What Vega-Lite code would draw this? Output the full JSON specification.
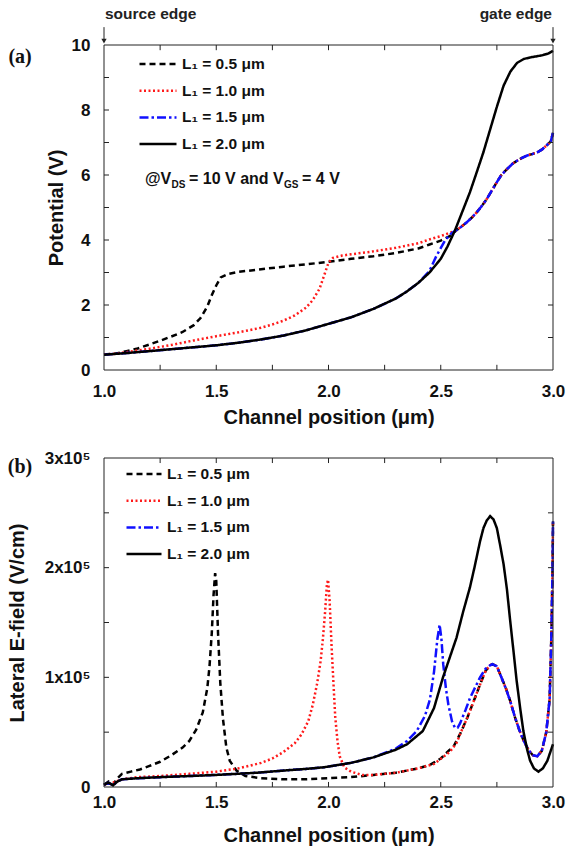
{
  "$schema": "https://vega.github.io/schema/vega-lite/v6.json",
  "padding": {"left": 7, "top": 7, "right": 4, "bottom": 2},
  "background": "white",
  "spacing": 22,
  "config": {
    "font": "Liberation Sans",
    "view": {"stroke": null},
    "axis": {
      "domain": false, "grid": false, "ticks": false,
      "labelFont": "Liberation Sans", "labelFontSize": 17, "labelFontWeight": "bold", "labelColor": "#111111",
      "titleFont": "Liberation Sans", "titleFontSize": 20, "titleFontWeight": "bold", "titleColor": "#111111",
      "labelOverlap": false, "labelFlush": false, "labelBound": false
    },
    "axisX": {"labelPadding": 13},
    "axisY": {"labelPadding": 14},
    "legend": {
      "labelFont": "Liberation Sans", "labelFontSize": 15.5, "labelFontWeight": "bold", "labelColor": "#111111",
      "symbolType": "stroke", "labelOffset": 4, "rowPadding": 9.7, "clipHeight": 16, "padding": 0
    }
  },
  "datasets": {
    "tx": [{"t":1.25},{"t":1.5},{"t":1.75},{"t":2.0},{"t":2.25},{"t":2.5},{"t":2.75}],
    "tp": [{"t":1},{"t":2},{"t":3},{"t":4},{"t":5},{"t":6},{"t":7},{"t":8},{"t":9}],
    "te": [{"t":50000},{"t":100000},{"t":150000},{"t":200000},{"t":250000}],
    "pot": [
      {"s":"0.5","x":1.0,"y":0.48},{"s":"0.5","x":1.05,"y":0.5},{"s":"0.5","x":1.1,"y":0.58},{"s":"0.5","x":1.15,"y":0.66},{"s":"0.5","x":1.2,"y":0.78},{"s":"0.5","x":1.25,"y":0.9},{"s":"0.5","x":1.3,"y":1.03},{"s":"0.5","x":1.35,"y":1.17},{"s":"0.5","x":1.4,"y":1.38},{"s":"0.5","x":1.43,"y":1.6},{"s":"0.5","x":1.46,"y":1.95},{"s":"0.5","x":1.48,"y":2.3},{"s":"0.5","x":1.5,"y":2.6},{"s":"0.5","x":1.52,"y":2.85},{"s":"0.5","x":1.55,"y":2.95},{"s":"0.5","x":1.6,"y":3.02},{"s":"0.5","x":1.7,"y":3.1},{"s":"0.5","x":1.8,"y":3.18},{"s":"0.5","x":1.9,"y":3.25},{"s":"0.5","x":2.0,"y":3.33},{"s":"0.5","x":2.1,"y":3.42},{"s":"0.5","x":2.2,"y":3.5},{"s":"0.5","x":2.3,"y":3.6},{"s":"0.5","x":2.4,"y":3.74},{"s":"0.5","x":2.45,"y":3.86},{"s":"0.5","x":2.5,"y":3.98},{"s":"0.5","x":2.54,"y":4.12},{"s":"0.5","x":2.57,"y":4.3},
      {"s":"0.5","x":2.59,"y":4.4},{"s":"0.5","x":2.615,"y":4.54},{"s":"0.5","x":2.64,"y":4.7},{"s":"0.5","x":2.66,"y":4.85},{"s":"0.5","x":2.68,"y":5.02},{"s":"0.5","x":2.705,"y":5.26},{"s":"0.5","x":2.73,"y":5.55},{"s":"0.5","x":2.75,"y":5.78},{"s":"0.5","x":2.77,"y":6.0},{"s":"0.5","x":2.795,"y":6.18},{"s":"0.5","x":2.82,"y":6.35},{"s":"0.5","x":2.84,"y":6.44},{"s":"0.5","x":2.86,"y":6.52},{"s":"0.5","x":2.885,"y":6.6},{"s":"0.5","x":2.91,"y":6.65},{"s":"0.5","x":2.93,"y":6.7},{"s":"0.5","x":2.95,"y":6.78},{"s":"0.5","x":2.97,"y":6.9},{"s":"0.5","x":2.99,"y":7.03},{"s":"0.5","x":3.0,"y":7.3},

      {"s":"1.0","x":1.0,"y":0.48},{"s":"1.0","x":1.05,"y":0.5},{"s":"1.0","x":1.1,"y":0.55},{"s":"1.0","x":1.2,"y":0.65},{"s":"1.0","x":1.3,"y":0.77},{"s":"1.0","x":1.4,"y":0.91},{"s":"1.0","x":1.5,"y":1.04},{"s":"1.0","x":1.6,"y":1.16},{"s":"1.0","x":1.7,"y":1.3},{"s":"1.0","x":1.75,"y":1.4},{"s":"1.0","x":1.8,"y":1.52},{"s":"1.0","x":1.85,"y":1.68},{"s":"1.0","x":1.9,"y":1.92},{"s":"1.0","x":1.93,"y":2.15},{"s":"1.0","x":1.96,"y":2.5},{"s":"1.0","x":1.98,"y":2.9},{"s":"1.0","x":2.0,"y":3.3},{"s":"1.0","x":2.02,"y":3.45},{"s":"1.0","x":2.06,"y":3.52},{"s":"1.0","x":2.1,"y":3.56},{"s":"1.0","x":2.2,"y":3.65},{"s":"1.0","x":2.3,"y":3.76},{"s":"1.0","x":2.4,"y":3.9},{"s":"1.0","x":2.45,"y":4.02},{"s":"1.0","x":2.5,"y":4.12},{"s":"1.0","x":2.54,"y":4.22},{"s":"1.0","x":2.57,"y":4.3},
      {"s":"1.0","x":2.59,"y":4.4},{"s":"1.0","x":2.615,"y":4.54},{"s":"1.0","x":2.64,"y":4.7},{"s":"1.0","x":2.66,"y":4.85},{"s":"1.0","x":2.68,"y":5.02},{"s":"1.0","x":2.705,"y":5.26},{"s":"1.0","x":2.73,"y":5.55},{"s":"1.0","x":2.75,"y":5.78},{"s":"1.0","x":2.77,"y":6.0},{"s":"1.0","x":2.795,"y":6.18},{"s":"1.0","x":2.82,"y":6.35},{"s":"1.0","x":2.84,"y":6.44},{"s":"1.0","x":2.86,"y":6.52},{"s":"1.0","x":2.885,"y":6.6},{"s":"1.0","x":2.91,"y":6.65},{"s":"1.0","x":2.93,"y":6.7},{"s":"1.0","x":2.95,"y":6.78},{"s":"1.0","x":2.97,"y":6.9},{"s":"1.0","x":2.99,"y":7.03},{"s":"1.0","x":3.0,"y":7.3},

      {"s":"1.5","x":1.0,"y":0.47},{"s":"1.5","x":1.1,"y":0.52},{"s":"1.5","x":1.2,"y":0.58},{"s":"1.5","x":1.3,"y":0.64},{"s":"1.5","x":1.4,"y":0.7},{"s":"1.5","x":1.5,"y":0.76},{"s":"1.5","x":1.6,"y":0.84},{"s":"1.5","x":1.7,"y":0.94},{"s":"1.5","x":1.8,"y":1.06},{"s":"1.5","x":1.9,"y":1.22},{"s":"1.5","x":2.0,"y":1.42},{"s":"1.5","x":2.1,"y":1.62},{"s":"1.5","x":2.2,"y":1.88},{"s":"1.5","x":2.3,"y":2.2},{"s":"1.5","x":2.35,"y":2.42},{"s":"1.5","x":2.4,"y":2.68},{"s":"1.5","x":2.45,"y":3.05},{"s":"1.5","x":2.48,"y":3.5},{"s":"1.5","x":2.52,"y":4.0},{"s":"1.5","x":2.55,"y":4.22},{"s":"1.5","x":2.575,"y":4.33},
      {"s":"1.5","x":2.59,"y":4.4},{"s":"1.5","x":2.615,"y":4.54},{"s":"1.5","x":2.64,"y":4.7},{"s":"1.5","x":2.66,"y":4.85},{"s":"1.5","x":2.68,"y":5.02},{"s":"1.5","x":2.705,"y":5.26},{"s":"1.5","x":2.73,"y":5.55},{"s":"1.5","x":2.75,"y":5.78},{"s":"1.5","x":2.77,"y":6.0},{"s":"1.5","x":2.795,"y":6.18},{"s":"1.5","x":2.82,"y":6.35},{"s":"1.5","x":2.84,"y":6.44},{"s":"1.5","x":2.86,"y":6.52},{"s":"1.5","x":2.885,"y":6.6},{"s":"1.5","x":2.91,"y":6.65},{"s":"1.5","x":2.93,"y":6.7},{"s":"1.5","x":2.95,"y":6.78},{"s":"1.5","x":2.97,"y":6.9},{"s":"1.5","x":2.99,"y":7.03},{"s":"1.5","x":3.0,"y":7.3},

      {"s":"2.0","x":1.0,"y":0.47},{"s":"2.0","x":1.1,"y":0.52},{"s":"2.0","x":1.2,"y":0.58},{"s":"2.0","x":1.3,"y":0.64},{"s":"2.0","x":1.4,"y":0.7},{"s":"2.0","x":1.5,"y":0.76},{"s":"2.0","x":1.6,"y":0.84},{"s":"2.0","x":1.7,"y":0.94},{"s":"2.0","x":1.8,"y":1.06},{"s":"2.0","x":1.9,"y":1.22},{"s":"2.0","x":2.0,"y":1.42},{"s":"2.0","x":2.1,"y":1.62},{"s":"2.0","x":2.2,"y":1.88},{"s":"2.0","x":2.3,"y":2.2},{"s":"2.0","x":2.35,"y":2.42},{"s":"2.0","x":2.4,"y":2.68},{"s":"2.0","x":2.45,"y":3.0},{"s":"2.0","x":2.5,"y":3.42},{"s":"2.0","x":2.53,"y":3.8},{"s":"2.0","x":2.563,"y":4.29},{"s":"2.0","x":2.6,"y":4.94},{"s":"2.0","x":2.63,"y":5.47},{"s":"2.0","x":2.66,"y":6.08},{"s":"2.0","x":2.69,"y":6.7},{"s":"2.0","x":2.72,"y":7.4},{"s":"2.0","x":2.75,"y":8.1},{"s":"2.0","x":2.78,"y":8.75},{"s":"2.0","x":2.81,"y":9.18},{"s":"2.0","x":2.84,"y":9.45},{"s":"2.0","x":2.87,"y":9.57},{"s":"2.0","x":2.9,"y":9.62},{"s":"2.0","x":2.95,"y":9.68},{"s":"2.0","x":2.98,"y":9.74},{"s":"2.0","x":3.0,"y":9.82}
    ],
    "ef": [
      {"s":"0.5","x":1.0,"y":2000},{"s":"0.5","x":1.02,"y":5000},{"s":"0.5","x":1.04,"y":2000},{"s":"0.5","x":1.06,"y":8000},{"s":"0.5","x":1.08,"y":12000},{"s":"0.5","x":1.12,"y":14000},{"s":"0.5","x":1.16,"y":16000},{"s":"0.5","x":1.2,"y":19000},{"s":"0.5","x":1.25,"y":23000},{"s":"0.5","x":1.3,"y":29000},{"s":"0.5","x":1.35,"y":36000},{"s":"0.5","x":1.38,"y":42000},{"s":"0.5","x":1.41,"y":52000},{"s":"0.5","x":1.44,"y":68000},{"s":"0.5","x":1.46,"y":90000},{"s":"0.5","x":1.47,"y":110000},{"s":"0.5","x":1.48,"y":140000},{"s":"0.5","x":1.488,"y":175000},{"s":"0.5","x":1.495,"y":195000},{"s":"0.5","x":1.5,"y":188000},{"s":"0.5","x":1.508,"y":140000},{"s":"0.5","x":1.518,"y":95000},{"s":"0.5","x":1.53,"y":62000},{"s":"0.5","x":1.545,"y":36000},{"s":"0.5","x":1.56,"y":24000},{"s":"0.5","x":1.59,"y":15000},{"s":"0.5","x":1.63,"y":10000},{"s":"0.5","x":1.7,"y":8000},{"s":"0.5","x":1.8,"y":7000},{"s":"0.5","x":1.9,"y":7000},{"s":"0.5","x":2.0,"y":8000},{"s":"0.5","x":2.1,"y":9000},{"s":"0.5","x":2.2,"y":11000},{"s":"0.5","x":2.3,"y":13000},{"s":"0.5","x":2.4,"y":17000},{"s":"0.5","x":2.45,"y":20000},{"s":"0.5","x":2.5,"y":26000},{"s":"0.5","x":2.53,"y":32000},{"s":"0.5","x":2.56,"y":38000},
      {"s":"0.5","x":2.59,"y":50000},{"s":"0.5","x":2.62,"y":64000},{"s":"0.5","x":2.65,"y":80000},{"s":"0.5","x":2.68,"y":96000},{"s":"0.5","x":2.7,"y":106000},{"s":"0.5","x":2.72,"y":111000},{"s":"0.5","x":2.73,"y":112000},{"s":"0.5","x":2.75,"y":110000},{"s":"0.5","x":2.77,"y":100000},{"s":"0.5","x":2.79,"y":90000},{"s":"0.5","x":2.81,"y":78000},{"s":"0.5","x":2.83,"y":64000},{"s":"0.5","x":2.85,"y":52000},{"s":"0.5","x":2.87,"y":42000},{"s":"0.5","x":2.89,"y":34000},{"s":"0.5","x":2.91,"y":29000},{"s":"0.5","x":2.93,"y":28000},{"s":"0.5","x":2.95,"y":33000},{"s":"0.5","x":2.97,"y":50000},{"s":"0.5","x":2.985,"y":80000},{"s":"0.5","x":2.993,"y":140000},{"s":"0.5","x":2.998,"y":200000},{"s":"0.5","x":3.0,"y":242000},

      {"s":"1.0","x":1.0,"y":2000},{"s":"1.0","x":1.04,"y":4000},{"s":"1.0","x":1.08,"y":7000},{"s":"1.0","x":1.15,"y":9000},{"s":"1.0","x":1.25,"y":10000},{"s":"1.0","x":1.38,"y":12000},{"s":"1.0","x":1.5,"y":14000},{"s":"1.0","x":1.6,"y":17000},{"s":"1.0","x":1.7,"y":22000},{"s":"1.0","x":1.75,"y":26000},{"s":"1.0","x":1.8,"y":32000},{"s":"1.0","x":1.85,"y":40000},{"s":"1.0","x":1.88,"y":48000},{"s":"1.0","x":1.91,"y":60000},{"s":"1.0","x":1.93,"y":75000},{"s":"1.0","x":1.95,"y":95000},{"s":"1.0","x":1.965,"y":115000},{"s":"1.0","x":1.975,"y":135000},{"s":"1.0","x":1.985,"y":160000},{"s":"1.0","x":1.993,"y":185000},{"s":"1.0","x":1.998,"y":189000},{"s":"1.0","x":2.005,"y":170000},{"s":"1.0","x":2.014,"y":127000},{"s":"1.0","x":2.022,"y":95000},{"s":"1.0","x":2.03,"y":64000},{"s":"1.0","x":2.04,"y":42000},{"s":"1.0","x":2.05,"y":28000},{"s":"1.0","x":2.07,"y":18000},{"s":"1.0","x":2.1,"y":14000},{"s":"1.0","x":2.15,"y":11000},{"s":"1.0","x":2.2,"y":11000},{"s":"1.0","x":2.3,"y":13000},{"s":"1.0","x":2.4,"y":17000},{"s":"1.0","x":2.47,"y":21000},{"s":"1.0","x":2.54,"y":32000},{"s":"1.0","x":2.57,"y":40000},
      {"s":"1.0","x":2.59,"y":50000},{"s":"1.0","x":2.62,"y":64000},{"s":"1.0","x":2.65,"y":80000},{"s":"1.0","x":2.68,"y":96000},{"s":"1.0","x":2.7,"y":106000},{"s":"1.0","x":2.72,"y":111000},{"s":"1.0","x":2.73,"y":112000},{"s":"1.0","x":2.75,"y":110000},{"s":"1.0","x":2.77,"y":100000},{"s":"1.0","x":2.79,"y":90000},{"s":"1.0","x":2.81,"y":78000},{"s":"1.0","x":2.83,"y":64000},{"s":"1.0","x":2.85,"y":52000},{"s":"1.0","x":2.87,"y":42000},{"s":"1.0","x":2.89,"y":34000},{"s":"1.0","x":2.91,"y":29000},{"s":"1.0","x":2.93,"y":28000},{"s":"1.0","x":2.95,"y":33000},{"s":"1.0","x":2.97,"y":50000},{"s":"1.0","x":2.985,"y":80000},{"s":"1.0","x":2.993,"y":140000},{"s":"1.0","x":2.998,"y":200000},{"s":"1.0","x":3.0,"y":242000},

      {"s":"1.5","x":1.0,"y":2000},{"s":"1.5","x":1.02,"y":4000},{"s":"1.5","x":1.04,"y":1500},{"s":"1.5","x":1.06,"y":5000},{"s":"1.5","x":1.08,"y":7000},{"s":"1.5","x":1.15,"y":8000},{"s":"1.5","x":1.25,"y":9000},{"s":"1.5","x":1.38,"y":10000},{"s":"1.5","x":1.5,"y":11000},{"s":"1.5","x":1.68,"y":13000},{"s":"1.5","x":1.8,"y":15000},{"s":"1.5","x":1.9,"y":16500},{"s":"1.5","x":1.98,"y":18000},{"s":"1.5","x":2.1,"y":22000},{"s":"1.5","x":2.2,"y":27000},{"s":"1.5","x":2.3,"y":35000},{"s":"1.5","x":2.35,"y":42000},{"s":"1.5","x":2.393,"y":51000},{"s":"1.5","x":2.43,"y":65000},{"s":"1.5","x":2.452,"y":80000},{"s":"1.5","x":2.47,"y":105000},{"s":"1.5","x":2.485,"y":135000},{"s":"1.5","x":2.495,"y":148000},{"s":"1.5","x":2.503,"y":135000},{"s":"1.5","x":2.511,"y":112000},{"s":"1.5","x":2.523,"y":90000},{"s":"1.5","x":2.534,"y":75000},{"s":"1.5","x":2.55,"y":60000},{"s":"1.5","x":2.563,"y":54000},{"s":"1.5","x":2.575,"y":54000},{"s":"1.5","x":2.586,"y":58000},{"s":"1.5","x":2.61,"y":70000},{"s":"1.5","x":2.63,"y":81000},{"s":"1.5","x":2.675,"y":100000},{"s":"1.5","x":2.7,"y":108000},{"s":"1.5","x":2.72,"y":111000},
      {"s":"1.5","x":2.73,"y":112000},{"s":"1.5","x":2.75,"y":110000},{"s":"1.5","x":2.77,"y":100000},{"s":"1.5","x":2.79,"y":90000},{"s":"1.5","x":2.81,"y":78000},{"s":"1.5","x":2.83,"y":64000},{"s":"1.5","x":2.85,"y":52000},{"s":"1.5","x":2.87,"y":42000},{"s":"1.5","x":2.89,"y":34000},{"s":"1.5","x":2.91,"y":29000},{"s":"1.5","x":2.93,"y":28000},{"s":"1.5","x":2.95,"y":33000},{"s":"1.5","x":2.97,"y":50000},{"s":"1.5","x":2.985,"y":80000},{"s":"1.5","x":2.993,"y":140000},{"s":"1.5","x":2.998,"y":200000},{"s":"1.5","x":3.0,"y":242000},

      {"s":"2.0","x":1.0,"y":2000},{"s":"2.0","x":1.02,"y":4000},{"s":"2.0","x":1.04,"y":1500},{"s":"2.0","x":1.06,"y":5000},{"s":"2.0","x":1.08,"y":7000},{"s":"2.0","x":1.15,"y":8000},{"s":"2.0","x":1.25,"y":9000},{"s":"2.0","x":1.38,"y":10000},{"s":"2.0","x":1.5,"y":11000},{"s":"2.0","x":1.68,"y":13000},{"s":"2.0","x":1.8,"y":15000},{"s":"2.0","x":1.9,"y":16500},{"s":"2.0","x":1.98,"y":18000},{"s":"2.0","x":2.1,"y":22000},{"s":"2.0","x":2.2,"y":27000},{"s":"2.0","x":2.3,"y":34000},{"s":"2.0","x":2.35,"y":39000},{"s":"2.0","x":2.42,"y":51000},{"s":"2.0","x":2.47,"y":72000},{"s":"2.0","x":2.51,"y":100000},{"s":"2.0","x":2.54,"y":118000},{"s":"2.0","x":2.57,"y":136000},{"s":"2.0","x":2.6,"y":160000},{"s":"2.0","x":2.63,"y":182000},{"s":"2.0","x":2.65,"y":200000},{"s":"2.0","x":2.675,"y":224000},{"s":"2.0","x":2.69,"y":236000},{"s":"2.0","x":2.705,"y":243000},{"s":"2.0","x":2.72,"y":247000},{"s":"2.0","x":2.735,"y":244000},{"s":"2.0","x":2.75,"y":236000},{"s":"2.0","x":2.765,"y":220000},{"s":"2.0","x":2.78,"y":203000},{"s":"2.0","x":2.795,"y":180000},{"s":"2.0","x":2.808,"y":154000},{"s":"2.0","x":2.825,"y":122000},{"s":"2.0","x":2.838,"y":97000},{"s":"2.0","x":2.855,"y":70000},{"s":"2.0","x":2.868,"y":51000},{"s":"2.0","x":2.885,"y":34000},{"s":"2.0","x":2.898,"y":24000},{"s":"2.0","x":2.915,"y":17000},{"s":"2.0","x":2.935,"y":14000},{"s":"2.0","x":2.955,"y":17000},{"s":"2.0","x":2.975,"y":24000},{"s":"2.0","x":3.0,"y":39000}
    ]
  },
  "resolve": {"scale": {"color": "independent", "strokeDash": "independent", "strokeWidth": "independent"}},
  "vconcat": [
    {
      "width": 449, "height": 325,
      "resolve": {"axis": {"x": "independent", "y": "independent"}},
      "layer": [
        {
          "data": {"name": "pot"},
          "mark": {"type": "line"},
          "encoding": {
            "x": {"field": "x", "type": "quantitative", "scale": {"domain": [1, 3], "nice": false, "zero": false},
                  "axis": {"orient": "bottom", "values": [1,1.5,2,2.5,3], "format": ".1f", "title": "Channel position (μm)", "titlePadding": 8}},
            "y": {"field": "y", "type": "quantitative", "scale": {"domain": [0, 10], "nice": false},
                  "axis": {"orient": "left", "values": [0,2,4,6,8,10], "format": "d", "title": "Potential (V)", "titlePadding": 5}},
            "color": {"field": "s", "type": "nominal", "scale": {"domain": ["0.5","1.0","1.5","2.0"], "range": ["#000000","#ff1a1a","#1010ff","#000000"]},
                      "legend": {"title": null, "orient": "none", "legendX": 34, "legendY": 11, "symbolSize": 1369, "labelExpr": "'L₁ = ' + datum.label + ' μm'"}},
            "strokeDash": {"field": "s", "type": "nominal", "scale": {"domain": ["0.5","1.0","1.5","2.0"], "range": [[6,4],[2,2.5],[9,3,2.5,3],[1,0]]},
                      "legend": {"title": null, "orient": "none", "legendX": 34, "legendY": 11, "symbolSize": 1369, "labelExpr": "'L₁ = ' + datum.label + ' μm'"}},
            "strokeWidth": {"field": "s", "type": "nominal", "scale": {"domain": ["0.5","1.0","1.5","2.0"], "range": [2.5,2.5,2.5,1.6]},
                      "legend": {"title": null, "orient": "none", "legendX": 34, "legendY": 11, "symbolSize": 1369, "labelExpr": "'L₁ = ' + datum.label + ' μm'"}}
          }
        },
        {"data": {"values": [{}]}, "mark": {"type": "rule", "color": "#222222", "strokeWidth": 1},
         "encoding": {"x": {"datum": 1, "axis": null}, "y": {"datum": 0, "axis": null}, "y2": {"datum": 10}}},
        {"data": {"values": [{}]}, "mark": {"type": "rule", "color": "#222222", "strokeWidth": 1},
         "encoding": {"x": {"datum": 3, "axis": null}, "y": {"datum": 0, "axis": null}, "y2": {"datum": 10}}},
        {"data": {"values": [{}]}, "mark": {"type": "rule", "color": "#222222", "strokeWidth": 1},
         "encoding": {"y": {"datum": 0, "axis": null}, "x": {"datum": 1, "axis": null}, "x2": {"datum": 3}}},
        {"data": {"values": [{}]}, "mark": {"type": "rule", "color": "#222222", "strokeWidth": 1},
         "encoding": {"y": {"datum": 10, "axis": null}, "x": {"datum": 1, "axis": null}, "x2": {"datum": 3}}},
        {"data": {"name": "tx"}, "mark": {"type": "rule", "color": "#222222", "strokeWidth": 1},
         "encoding": {"x": {"field": "t", "type": "quantitative", "axis": null}, "y": {"datum": 0, "axis": null}, "y2": {"datum": 0.16}}},
        {"data": {"name": "tx"}, "mark": {"type": "rule", "color": "#222222", "strokeWidth": 1},
         "encoding": {"x": {"field": "t", "type": "quantitative", "axis": null}, "y": {"datum": 10, "axis": null}, "y2": {"datum": 9.84}}},
        {"data": {"name": "tp"}, "mark": {"type": "rule", "color": "#222222", "strokeWidth": 1},
         "encoding": {"y": {"field": "t", "type": "quantitative", "axis": null}, "x": {"datum": 1, "axis": null}, "x2": {"datum": 1.0223}}},
        {"data": {"name": "tp"}, "mark": {"type": "rule", "color": "#222222", "strokeWidth": 1},
         "encoding": {"y": {"field": "t", "type": "quantitative", "axis": null}, "x": {"datum": 3, "axis": null}, "x2": {"datum": 2.9777}}},
        {
          "data": {"values": [{}]},
          "mark": {"type": "text", "text": "(a)", "font": "Liberation Serif", "fontSize": 20, "fontWeight": "bold", "align": "center", "baseline": "middle", "color": "#111111"},
          "encoding": {"x": {"datum": 0.626, "axis": null}, "y": {"datum": 9.63, "axis": null}}
        },
        {
          "data": {"values": [{}]},
          "mark": {"type": "text", "text": "source edge", "fontSize": 15.5, "fontWeight": "bold", "align": "left", "baseline": "middle", "color": "#222222", "dx": 1},
          "encoding": {"x": {"datum": 1.0, "axis": null}, "y": {"datum": 10.95, "axis": null}}
        },
        {
          "data": {"values": [{}]},
          "mark": {"type": "text", "text": "gate edge", "fontSize": 15.5, "fontWeight": "bold", "align": "right", "baseline": "middle", "color": "#222222", "dx": -1},
          "encoding": {"x": {"datum": 3.0, "axis": null}, "y": {"datum": 10.95, "axis": null}}
        },
        {
          "data": {"values": [{}]},
          "mark": {"type": "rule", "color": "#222222", "strokeWidth": 1},
          "encoding": {"x": {"datum": 1.0, "axis": null}, "y": {"datum": 10.55, "axis": null}, "y2": {"datum": 10.1}}
        },
        {
          "data": {"values": [{}]},
          "mark": {"type": "rule", "color": "#222222", "strokeWidth": 1},
          "encoding": {"x": {"datum": 3.0, "axis": null}, "y": {"datum": 10.55, "axis": null}, "y2": {"datum": 10.1}}
        },
        {
          "data": {"values": [{}]},
          "mark": {"type": "point", "shape": "triangle-down", "filled": true, "color": "#222222", "size": 28, "opacity": 1},
          "encoding": {"x": {"datum": 1.0, "axis": null}, "y": {"datum": 10.12, "axis": null}}
        },
        {
          "data": {"values": [{}]},
          "mark": {"type": "point", "shape": "triangle-down", "filled": true, "color": "#222222", "size": 28, "opacity": 1},
          "encoding": {"x": {"datum": 3.0, "axis": null}, "y": {"datum": 10.12, "axis": null}}
        },
        {
          "data": {"values": [{}]},
          "mark": {"type": "text", "text": "@V", "fontSize": 16, "fontWeight": "bold", "align": "left", "baseline": "middle", "color": "#111111", "dx": 0},
          "encoding": {"x": {"datum": 1.1826, "axis": null}, "y": {"datum": 5.88, "axis": null}}
        },
        {
          "data": {"values": [{}]},
          "mark": {"type": "text", "text": "DS", "fontSize": 10, "fontWeight": "bold", "align": "left", "baseline": "middle", "color": "#111111", "dx": 26.5, "dy": 6},
          "encoding": {"x": {"datum": 1.1826, "axis": null}, "y": {"datum": 5.88, "axis": null}}
        },
        {
          "data": {"values": [{}]},
          "mark": {"type": "text", "text": "= 10 V and V", "fontSize": 16, "fontWeight": "bold", "align": "left", "baseline": "middle", "color": "#111111", "dx": 44},
          "encoding": {"x": {"datum": 1.1826, "axis": null}, "y": {"datum": 5.88, "axis": null}}
        },
        {
          "data": {"values": [{}]},
          "mark": {"type": "text", "text": "GS", "fontSize": 10, "fontWeight": "bold", "align": "left", "baseline": "middle", "color": "#111111", "dx": 139, "dy": 6},
          "encoding": {"x": {"datum": 1.1826, "axis": null}, "y": {"datum": 5.88, "axis": null}}
        },
        {
          "data": {"values": [{}]},
          "mark": {"type": "text", "text": "= 4 V", "fontSize": 16, "fontWeight": "bold", "align": "left", "baseline": "middle", "color": "#111111", "dx": 157},
          "encoding": {"x": {"datum": 1.1826, "axis": null}, "y": {"datum": 5.88, "axis": null}}
        }
      ]
    },
    {
      "width": 449, "height": 329,
      "resolve": {"axis": {"x": "independent", "y": "independent"}},
      "layer": [
        {
          "data": {"name": "ef"},
          "mark": {"type": "line"},
          "encoding": {
            "x": {"field": "x", "type": "quantitative", "scale": {"domain": [1, 3], "nice": false, "zero": false},
                  "axis": {"orient": "bottom", "values": [1,1.5,2,2.5,3], "format": ".1f", "title": "Channel position (μm)", "labelPadding": 7, "titlePadding": 15}},
            "y": {"field": "y", "type": "quantitative", "scale": {"domain": [0, 300000], "nice": false},
                  "axis": {"orient": "left", "values": [0,100000,200000,300000], "labelExpr": "datum.value == 0 ? '0' : format(datum.value / 100000, 'd') + 'x10⁵'", "title": "Lateral E-field (V/cm)", "titlePadding": 17}},
            "color": {"field": "s", "type": "nominal", "scale": {"domain": ["0.5","1.0","1.5","2.0"], "range": ["#000000","#ff1a1a","#1010ff","#000000"]},
                      "legend": {"title": null, "orient": "none", "legendX": 21, "legendY": 8, "symbolSize": 1225, "labelExpr": "'L₁ = ' + datum.label + ' μm'"}},
            "strokeDash": {"field": "s", "type": "nominal", "scale": {"domain": ["0.5","1.0","1.5","2.0"], "range": [[6,4],[2,2.5],[9,3,2.5,3],[1,0]]},
                      "legend": {"title": null, "orient": "none", "legendX": 21, "legendY": 8, "symbolSize": 1225, "labelExpr": "'L₁ = ' + datum.label + ' μm'"}},
            "strokeWidth": {"field": "s", "type": "nominal", "scale": {"domain": ["0.5","1.0","1.5","2.0"], "range": [2.5,2.5,2.5,1.6]},
                      "legend": {"title": null, "orient": "none", "legendX": 21, "legendY": 8, "symbolSize": 1225, "labelExpr": "'L₁ = ' + datum.label + ' μm'"}}
          }
        },
        {"data": {"values": [{}]}, "mark": {"type": "rule", "color": "#222222", "strokeWidth": 1},
         "encoding": {"x": {"datum": 1, "axis": null}, "y": {"datum": 0, "axis": null}, "y2": {"datum": 300000}}},
        {"data": {"values": [{}]}, "mark": {"type": "rule", "color": "#222222", "strokeWidth": 1},
         "encoding": {"x": {"datum": 3, "axis": null}, "y": {"datum": 0, "axis": null}, "y2": {"datum": 300000}}},
        {"data": {"values": [{}]}, "mark": {"type": "rule", "color": "#222222", "strokeWidth": 1},
         "encoding": {"y": {"datum": 0, "axis": null}, "x": {"datum": 1, "axis": null}, "x2": {"datum": 3}}},
        {"data": {"values": [{}]}, "mark": {"type": "rule", "color": "#222222", "strokeWidth": 1},
         "encoding": {"y": {"datum": 300000, "axis": null}, "x": {"datum": 1, "axis": null}, "x2": {"datum": 3}}},
        {"data": {"name": "tx"}, "mark": {"type": "rule", "color": "#222222", "strokeWidth": 1},
         "encoding": {"x": {"field": "t", "type": "quantitative", "axis": null}, "y": {"datum": 0, "axis": null}, "y2": {"datum": 4600}}},
        {"data": {"name": "tx"}, "mark": {"type": "rule", "color": "#222222", "strokeWidth": 1},
         "encoding": {"x": {"field": "t", "type": "quantitative", "axis": null}, "y": {"datum": 300000, "axis": null}, "y2": {"datum": 295400}}},
        {"data": {"name": "te"}, "mark": {"type": "rule", "color": "#222222", "strokeWidth": 1},
         "encoding": {"y": {"field": "t", "type": "quantitative", "axis": null}, "x": {"datum": 1, "axis": null}, "x2": {"datum": 1.0223}}},
        {"data": {"name": "te"}, "mark": {"type": "rule", "color": "#222222", "strokeWidth": 1},
         "encoding": {"y": {"field": "t", "type": "quantitative", "axis": null}, "x": {"datum": 3, "axis": null}, "x2": {"datum": 2.9777}}},
        {
          "data": {"values": [{}]},
          "mark": {"type": "text", "text": "(b)", "font": "Liberation Serif", "fontSize": 20, "fontWeight": "bold", "align": "center", "baseline": "middle", "color": "#111111"},
          "encoding": {"x": {"datum": 0.626, "axis": null}, "y": {"datum": 291700, "axis": null}}
        }
      ]
    }
  ]
}
